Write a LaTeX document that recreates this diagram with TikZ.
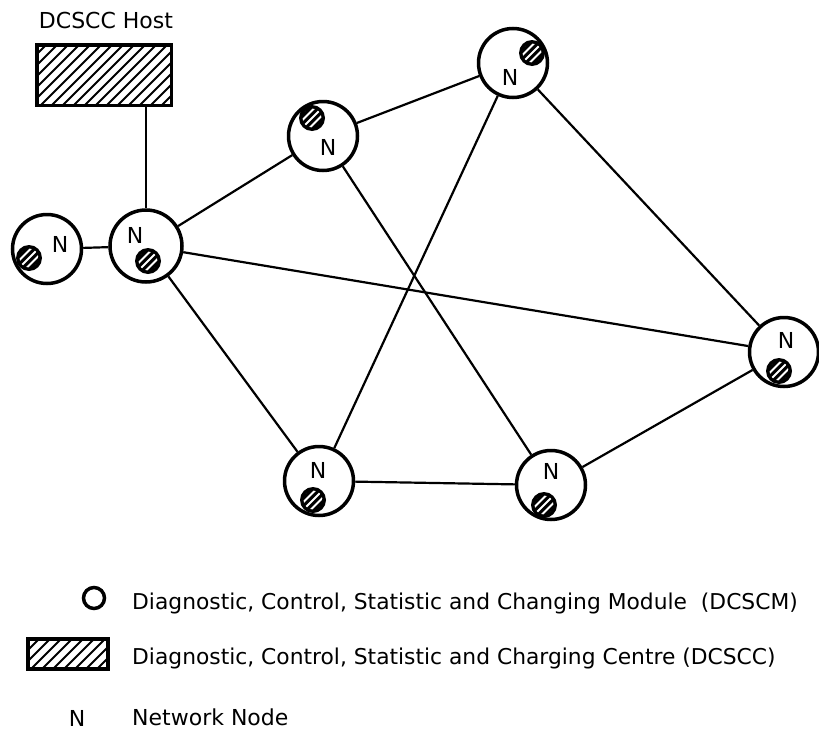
\documentclass[tikz,border=0pt]{standalone}
\usepackage{fontspec}
\setmainfont{DejaVu Sans}
\usetikzlibrary{calc}
\tikzset{
  netnode/.style={circle, draw, line width=3.5pt, minimum size=69pt, inner sep=0pt},
  nlabel/.style={font=\fontsize{22}{22}\selectfont, inner sep=0pt},
  module/.style={circle, fill=black, minimum size=26pt, inner sep=0pt,
    path picture={
      \clip (path picture bounding box.center) circle (9.5pt);
      \foreach \k in {-2,...,2}
        \draw[white, line width=2pt] ([shift={(\k*7.5pt-16pt,-16pt)}]path picture bounding box.center) -- ++(32pt,32pt);
    }},
  hatchbox/.style={draw, line width=3.5pt, inner sep=0pt,
    path picture={
      \foreach \k in {-12,...,12}
        \draw[line width=2pt] ([shift={(\k*11pt-40pt,-40pt)}]path picture bounding box.center) -- ++(80pt,80pt);
    }},
  link/.style={line width=2.2pt},
  legtext/.style={font=\fontsize{21.8}{21.8}\selectfont, inner sep=0pt, anchor=base west},
}
\begin{document}
\begin{tikzpicture}[x=1pt,y=-1pt]
\useasboundingbox (0,0) rectangle (819,731);

% host
\node[font=\fontsize{22}{22}\selectfont, inner sep=0pt, anchor=base] (hostlabel) at (106,28) {DCSCC Host};
\node[hatchbox, minimum width=134.5pt, minimum height=60.5pt] (host) at (104,75) {};

% network nodes
\node[netnode] (A) at (47,249) {};
\node[netnode, minimum size=72pt] (B) at (146,246) {};
\node[netnode] (C) at (323,136) {};
\node[netnode] (D) at (513,63) {};
\node[netnode] (E) at (319,481) {};
\node[netnode] (F) at (551,485) {};
\node[netnode] (G) at (784,352) {};

% N labels
\node[nlabel] (An) at (60,244) {N};
\node[nlabel] (Bn) at (135,235) {N};
\node[nlabel] (Cn) at (328,147) {N};
\node[nlabel] (Dn) at (510,77) {N};
\node[nlabel] (En) at (318,470) {N};
\node[nlabel] (Fn) at (551,471) {N};
\node[nlabel] (Gn) at (786,340) {N};

% modules
\node[module] (Am) at (29,258) {};
\node[module] (Bm) at (148,261) {};
\node[module] (Cm) at (312,118) {};
\node[module] (Dm) at (532,53) {};
\node[module] (Em) at (313,500) {};
\node[module] (Fm) at (544,505) {};
\node[module] (Gm) at (779,371) {};

% links
\draw[link] (host.south -| B.north) -- (B.north);
\draw[link] (A) -- (B);
\draw[link] (B) -- (C);
\draw[link] (B) -- (G);
\draw[link] (B) -- (E);
\draw[link] (C) -- (D);
\draw[link] (C) -- (F);
\draw[link] (D) -- (E);
\draw[link] (D) -- (G);
\draw[link] (E) -- (F);
\draw[link] (F) -- (G);

% legend
\node[circle, draw, line width=3.5pt, minimum size=21pt, inner sep=0pt] (legmod) at (94,598) {};
\node[legtext] (legmodtext) at (132,609) {Diagnostic, Control, Statistic and Changing Module\ \ (DCSCM)};
\node[hatchbox, minimum width=80pt, minimum height=30pt] (legbox) at (68,654) {};
\node[legtext] (legboxtext) at (132,664) {Diagnostic, Control, Statistic and Charging Centre (DCSCC)};
\node[font=\fontsize{22}{22}\selectfont, inner sep=0pt, anchor=base] (legn) at (77,726) {N};
\node[legtext, font=\fontsize{22}{22}\selectfont] (legntext) at (132,725) {Network Node};
\end{tikzpicture}
\end{document}
